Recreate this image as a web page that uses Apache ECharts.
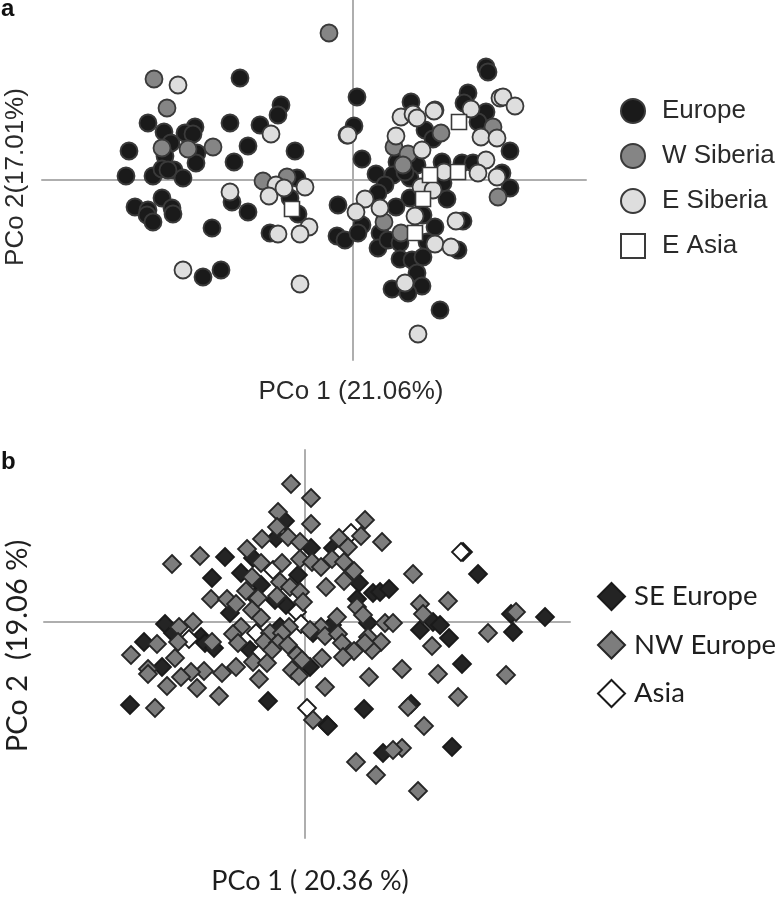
<!DOCTYPE html>
<html>
<head>
<meta charset="utf-8">
<style>
  html, body { margin: 0; padding: 0; background: #fff; }
  #chart { width: 777px; height: 898px; }
</style>
<script src="https://cdn.jsdelivr.net/npm/echarts@6/dist/echarts.min.js"></script>
</head>
<body>
<div id="chart"></div>
<script>
// panel a, values
const europe = [[-113,102],[-205,57],[-123,57],[-93,55],[-72,75],[-75,65],[-189,48],[-182,37],[-158,53],[-168,47],[-160,46],[-105,34],[-58,29],[-224,29],[-156,27],[-157,17],[-188,24],[-119,18],[-227,4],[-200,4],[-191,11],[-179,10],[-170,2],[-185,10],[-56,2],[-191,-18],[-218,-27],[-205,-30],[-181,-28],[-180,-34],[-206,-35],[-200,-42],[-121,-22],[-105,-32],[-141,-48],[-63,-18],[-55,-34],[-83,-53],[-15,-25],[-16,-56],[-8,-60],[-132,-90],[-150,-97],
  [133,113],[135,108],[115,87],[111,77],[58,78],[82,70],[4,83],[1,54],[72,50],[80,41],[133,68],[125,58],[157,29],[9,21],[23,6],[44,18],[64,15],[89,18],[109,17],[120,17],[149,7],[157,-8],[40,5],[57,2],[52,8],[32,-5],[25,-13],[90,-3],[94,-19],[57,-18],[43,-27],[70,-35],[110,-41],[82,-47],[9,-45],[5,-53],[27,-53],[25,-68],[35,-60],[47,-63],[74,-62],[105,-70],[47,-79],[59,-80],[70,-77],[64,-93],[69,-106],[39,-109],[55,-113],[87,-130]];
const wSiberia = [[-199,101],[-186,72],[-191,32],[-165,31],[-140,33],[-90,-1],[-66,3],[-24,147],[140,53],[88,47],[41,33],[55,26],[50,15],[145,-17],[31,-42],[48,-53]];
const eSiberia = [[-175,95],[-82,46],[-123,-12],[-77,-5],[-84,-16],[-69,-8],[-48,-7],[-75,-54],[-44,-47],[-53,-54],[-170,-90],[-53,-104],[-6,45],
  [147,82],[150,83],[162,74],[118,71],[81,69],[48,63],[60,66],[64,62],[-5,45],[43,44],[69,30],[128,43],[144,42],[133,20],[125,7],[144,3],[91,8],[68,-7],[80,-10],[12,-19],[3,-32],[27,-28],[62,-36],[103,-41],[82,-64],[98,-67],[52,-103],[65,-154]];
const eAsia = [[-61,-29],[106,58],[77,5],[105,8],[70,-19],[62,-53]];

// panel b
const seEurope = [[-80,65],[-93,44],[-64,49],[-52,64],[-20,101],[-29,84],[6,74],[-7,47],[-44,37],[-50,25],[-19,17],[-30,22],[-75,9],[-140,-2],[-132,-11],[-161,-20],[-104,-15],[-100,-21],[-91,-26],[-55,-28],[-143,-45],[-175,-83],[-37,-79],[22,-103],[-25,-5],[5,-45],
  [28,74],[54,39],[173,48],[68,29],[75,30],[84,33],[52,23],[63,-1],[27,-3],[8,-11],[115,-8],[128,0],[135,-3],[144,-16],[206,8],[240,5],[208,-10],[157,-42],[106,-82],[59,-87],[23,-104],[78,-131],[147,-125],[158,70]];
const nwEurope = [[-14,138],[6,124],[6,98],[-27,110],[-28,95],[-17,85],[-43,83],[-5,80],[-105,66],[-133,58],[-58,73],[-44,59],[-23,59],[-5,63],[7,60],[16,55],[-53,45],[-25,40],[-15,35],[-59,31],[-5,30],[-94,23],[-78,23],[-69,18],[-47,24],[-28,26],[-2,20],[21,35],[-53,12],[-44,4],[-112,0],[-126,-5],[-127,-20],[-148,-22],[-174,-33],[-130,-36],[-93,-20],[-64,-5],[-72,-12],[-67,-21],[-16,-5],[16,-5],[5,-8],[-35,-11],[-23,-11],[-41,-20],[-27,-21],[-17,-23],[-33,-28],[-8,-33],[-3,-38],[17,-36],[-52,-40],[-38,-41],[-69,-45],[-83,-51],[-101,-49],[-114,-50],[-124,-55],[-157,-47],[-157,-52],[-138,-64],[-108,-66],[-86,-74],[-46,-57],[-13,-48],[-6,-54],[20,-65],[-150,-86],[8,-98],
  [60,102],[56,86],[34,84],[77,80],[43,75],[27,63],[39,60],[49,51],[39,41],[108,48],[143,21],[115,18],[118,8],[52,15],[58,7],[32,5],[20,-14],[33,-12],[37,-21],[80,-1],[88,-1],[63,-15],[76,-20],[67,-28],[60,-21],[49,-29],[38,-35],[127,-24],[183,-11],[211,10],[97,-47],[133,-52],[201,-53],[64,-55],[153,-75],[103,-85],[119,-104],[97,-126],[88,-128],[51,-140],[71,-153],[113,-169]];
const asia = [[-32,52],[-8,10],[-4,-2],[-49,-11],[-116,-17],[-44,-30],[2,-86],[46,89],[156,70],[35,69]];

const makeAxis = (gridIndex, min, max) => ({
  type: 'value',
  gridIndex: gridIndex,
  min: min,
  max: max,
  axisLine: {onZero: true, lineStyle: {color: '#aeaeae', width: 2}},
  axisTick: {show: false},
  axisLabel: {show: false},
  splitLine: {show: false},
});

const circles = (name, data, fill) => ({
  name: name,
  type: 'scatter',
  xAxisIndex: 0,
  yAxisIndex: 0,
  data: data,
  symbol: 'circle',
  symbolSize: 17,
  itemStyle: {color: fill, borderColor: '#3a3a3a', borderWidth: 1.8, opacity: 1},
});

const diamonds = (name, data, fill, border) => ({
  name: name,
  type: 'scatter',
  xAxisIndex: 1,
  yAxisIndex: 1,
  data: data,
  symbol: 'diamond',
  symbolSize: 18,
  itemStyle: {color: fill, borderColor: border, borderWidth: 1.8, opacity: 1},
});

const chart = echarts.init(document.getElementById('chart'));
chart.setOption({
  animation: false,
  backgroundColor: '#fff',
  grid: [
    {left: 42, top: 0, width: 544, height: 360},
    {left: 44, top: 450, width: 526, height: 388},
  ],
  xAxis: [makeAxis(0, -311, 233), makeAxis(1, -261, 265)],
  yAxis: [makeAxis(0, -180, 180), makeAxis(1, -216, 172)],
  legend: [
    {
      left: 620, top: 98, padding: 0, orient: 'vertical', itemGap: 19,
      itemWidth: 24, itemHeight: 24, selectedMode: false,
      data: ['Europe', 'W Siberia', 'E Siberia', 'E Asia'],
      textStyle: {fontFamily: 'Liberation Sans', fontSize: 26, color: '#2a2a2a', padding: [0, 0, 0, 12]},
    },
    {
      left: 597, top: 582, padding: 0, orient: 'vertical', itemGap: 19.5,
      itemWidth: 27, itemHeight: 27, selectedMode: false,
      data: ['SE Europe', 'NW Europe', 'Asia'],
      textStyle: {fontFamily: 'Lato', fontSize: 27.5, color: '#1e1e1e', padding: [0, 0, 0, 4]},
    },
  ],
  series: [
    circles('Europe', europe, '#1a1a1a'),
    circles('W Siberia', wSiberia, '#858585'),
    circles('E Siberia', eSiberia, '#dedede'),
    {
      name: 'E Asia', type: 'scatter', xAxisIndex: 0, yAxisIndex: 0, data: eAsia,
      symbol: 'rect', symbolSize: 15,
      itemStyle: {color: '#fff', borderColor: '#3a3a3a', borderWidth: 1.6, opacity: 1},
    },
    diamonds('SE Europe', seEurope, '#242424', '#1a1a1a'),
    diamonds('Asia', asia, '#fff', '#1a1a1a'),
    diamonds('NW Europe', nwEurope, '#7d7d7d', '#262626'),
  ],
  graphic: [
    {type: 'text', left: 1, top: -3, style: {text: 'a', font: 'bold 24px "Liberation Sans"', fill: '#111'}},
    {type: 'text', left: 1, top: 450, style: {text: 'b', font: 'bold 24px "Liberation Sans"', fill: '#111'}},
    {type: 'text', x: 351, y: 392, style: {text: 'PCo 1 (21.06%)', font: '26px "Liberation Sans"', fill: '#2a2a2a', align: 'center', verticalAlign: 'middle'}},
    {type: 'text', x: 16, y: 177, rotation: Math.PI / 2, style: {text: 'PCo 2(17.01%)', font: '26px "Liberation Sans"', fill: '#2a2a2a', align: 'center', verticalAlign: 'middle'}},
    {type: 'text', x: 310, y: 881, style: {text: 'PCo 1 ( 20.36 %)', font: '27px Lato', fill: '#1e1e1e', align: 'center', verticalAlign: 'middle'}},
    {type: 'text', x: 18, y: 646, rotation: Math.PI / 2, style: {text: 'PCo 2  (19.06 %)', font: '29px Lato', fill: '#1e1e1e', align: 'center', verticalAlign: 'middle'}},
  ],
});
</script>
</body>
</html>
